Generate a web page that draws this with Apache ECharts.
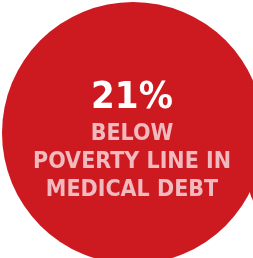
<!DOCTYPE html>
<html>
<head>
<meta charset="utf-8">
<script src="https://cdn.jsdelivr.net/npm/echarts@6/dist/echarts.min.js"></script>
<style>
	html, body { margin: 0; padding: 0; background: #fff; }
	#main { width: 253px; height: 258px; }
</style>
</head>
<body>
<div id="main"></div>
<script>
// share of people below poverty line carrying medical debt
var shareLabel = ['Below poverty line in medical debt'];
var shareValue = [21];
var captionLines = ['BELOW', 'POVERTY LINE IN', 'MEDICAL DEBT'];

var RED = '#cc1a20';
var PINK = '#f2b9be';

var chart = echarts.init(document.getElementById('main'), null, { renderer: 'canvas' });

chart.setOption({
	animation: false,
	backgroundColor: '#fff',
	graphic: [{
		// neighbouring bubble, only its edge peeks in at the right
		type: 'circle',
		z: 1,
		shape: { cx: 288, cy: 181, r: 40 },
		style: { fill: RED }
	}, {
		type: 'text',
		z: 10,
		x: 132,
		y: 79,
		style: {
			text: shareValue[0] + '%',
			fill: '#fff',
			align: 'center',
			verticalAlign: 'top',
			font: 'bold 38px "DejaVu Sans Condensed"'
		}
	}, {
		type: 'text',
		z: 10,
		x: 132,
		y: 120,
		style: {
			text: captionLines.join('\n'),
			fill: PINK,
			align: 'center',
			verticalAlign: 'top',
			lineHeight: 28,
			font: 'bold 23px "DejaVu Sans Condensed"'
		}
	}],
	series: [{
		type: 'pie',
		z: 2,
		center: [133, 133],
		radius: [0, 131],
		silent: true,
		label: { show: false },
		labelLine: { show: false },
		itemStyle: { color: RED, borderWidth: 0 },
		data: [{ name: shareLabel[0], value: shareValue[0] }]
	}]
});
</script>
</body>
</html>
